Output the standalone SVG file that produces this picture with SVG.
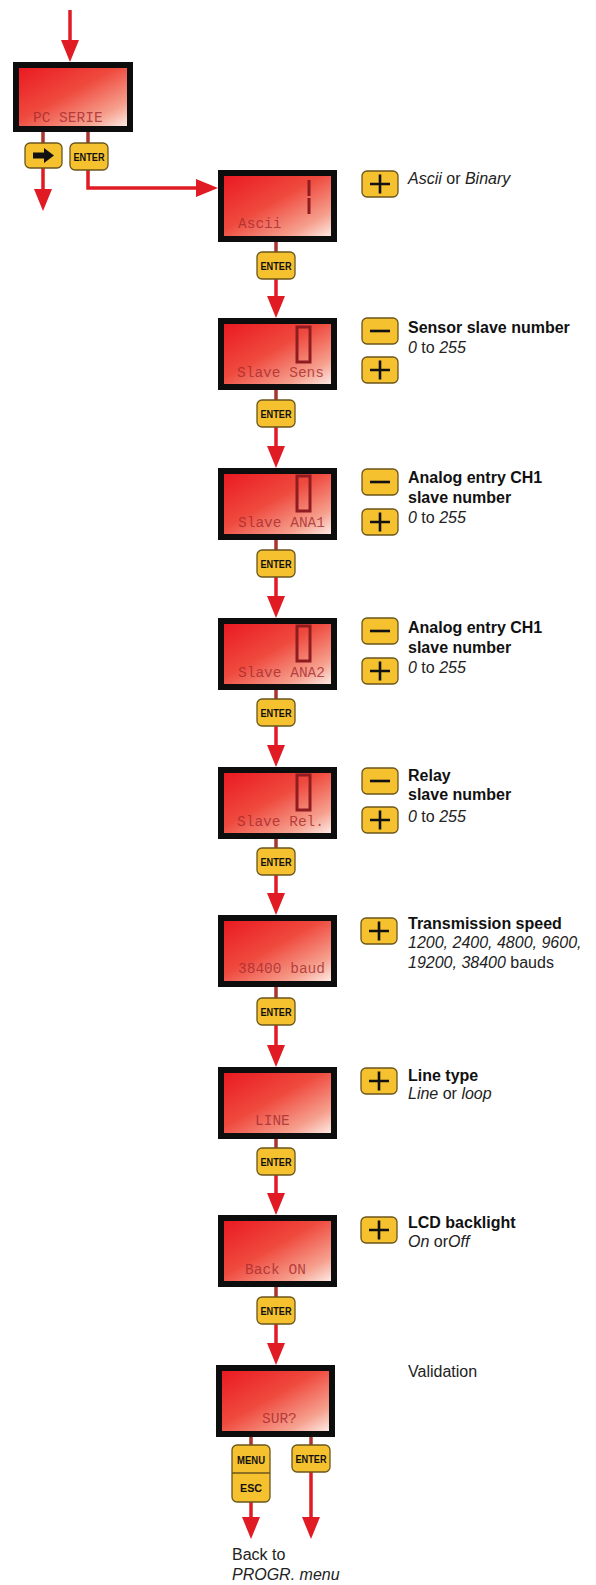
<svg xmlns="http://www.w3.org/2000/svg" xmlns:xlink="http://www.w3.org/1999/xlink" width="596" height="1585" viewBox="0 0 596 1585">
<style>
.frame{fill:#0d0d0d}
.scr{fill:url(#lcd)}
.lcdt{font-family:"Liberation Mono","DejaVu Sans Mono",monospace;font-size:14.5px;fill:#a42a2e;fill-opacity:0.8}
.dig{fill:none;stroke:#8e1c20;stroke-width:3}
.btn{fill:#f6c12f;stroke:#6a561c;stroke-width:1.3}
.bt{font-family:"Liberation Sans",Arial,sans-serif;font-weight:bold;font-size:11px;fill:#111}
.sym{stroke:#111;stroke-width:2.6;fill:none}
.lbl{font-family:"Liberation Sans",Arial,sans-serif;font-size:16px;fill:#222}
.b{font-weight:bold;fill:#111}
.i{font-style:italic}
.ln{stroke:#e01b24;stroke-width:3.5;fill:none}
.lnd{stroke:#a8352f;stroke-width:3.5;fill:none}
.ah{fill:#e01b24}
</style>
<defs>
<linearGradient id="lcd" x1="0" y1="0" x2="1" y2="1">
<stop offset="0" stop-color="#ea1a22"/>
<stop offset="0.45" stop-color="#ef4a3e"/>
<stop offset="0.8" stop-color="#f6a08e"/>
<stop offset="1" stop-color="#fde9e3"/>
</linearGradient>
<polygon id="ahd" points="-9,-22 9,-22 0,0"/>
<polygon id="ahr" points="-22,-9 -22,9 0,0"/>
<g id="plus"><rect class="btn" x="0" y="0" width="36" height="26" rx="5"/><path class="sym" d="M8,13 H28 M18,3.5 V22.5"/></g>
<g id="minus"><rect class="btn" x="0" y="0" width="36" height="26" rx="5"/><path class="sym" d="M8,13 H28" stroke-width="3"/></g>
<g id="enter"><rect class="btn" x="0" y="0" width="38" height="27" rx="5"/><text class="bt" x="19" y="18" text-anchor="middle" textLength="31" lengthAdjust="spacingAndGlyphs">ENTER</text></g>
</defs>
<rect width="596" height="1585" fill="#ffffff"/>

<g id="connectors">
<line class="ln" x1="70" y1="10" x2="70" y2="42"/>
<use href="#ahd" class="ah" x="70" y="62"/>
<line class="lnd" x1="43" y1="132" x2="43" y2="143"/>
<line class="lnd" x1="88" y1="132" x2="88" y2="143"/>
<line class="ln" x1="43" y1="168" x2="43" y2="190"/>
<use href="#ahd" class="ah" x="43" y="211"/>
<polyline class="ln" points="88,170 88,188 198,188"/>
<use href="#ahr" class="ah" x="218" y="188"/>
<line class="lnd" x1="276" y1="242" x2="276" y2="252"/>
<line class="ln" x1="276" y1="279" x2="276" y2="298"/>
<use href="#ahd" class="ah" x="276" y="318"/>
<line class="lnd" x1="276" y1="390" x2="276" y2="400"/>
<line class="ln" x1="276" y1="427" x2="276" y2="448"/>
<use href="#ahd" class="ah" x="276" y="468"/>
<line class="lnd" x1="276" y1="540" x2="276" y2="550"/>
<line class="ln" x1="276" y1="577" x2="276" y2="598"/>
<use href="#ahd" class="ah" x="276" y="618"/>
<line class="lnd" x1="276" y1="690" x2="276" y2="699"/>
<line class="ln" x1="276" y1="726" x2="276" y2="747"/>
<use href="#ahd" class="ah" x="276" y="767"/>
<line class="lnd" x1="276" y1="839" x2="276" y2="848"/>
<line class="ln" x1="276" y1="875" x2="276" y2="895"/>
<use href="#ahd" class="ah" x="276" y="915"/>
<line class="lnd" x1="276" y1="987" x2="276" y2="998"/>
<line class="ln" x1="276" y1="1025" x2="276" y2="1047"/>
<use href="#ahd" class="ah" x="276" y="1067"/>
<line class="lnd" x1="276" y1="1139" x2="276" y2="1148"/>
<line class="ln" x1="276" y1="1175" x2="276" y2="1195"/>
<use href="#ahd" class="ah" x="276" y="1215"/>
<line class="lnd" x1="276" y1="1287" x2="276" y2="1297"/>
<line class="ln" x1="276" y1="1324" x2="276" y2="1345"/>
<use href="#ahd" class="ah" x="276" y="1365"/>
<line class="lnd" x1="251" y1="1437" x2="251" y2="1445"/>
<line class="lnd" x1="311" y1="1437" x2="311" y2="1445"/>
<line class="ln" x1="251" y1="1502" x2="251" y2="1518"/>
<use href="#ahd" class="ah" x="251" y="1539"/>
<line class="ln" x1="311" y1="1472" x2="311" y2="1518"/>
<use href="#ahd" class="ah" x="311" y="1539"/>
</g>

<g id="node-pc-serie">
<rect class="frame" x="13" y="62" width="120" height="70"/>
<rect class="scr" x="19" y="68" width="108" height="58"/>
<text class="lcdt" x="33" y="122">PC SERIE</text>
<rect class="btn" x="25" y="143" width="37" height="25" rx="5"/>
<polygon fill="#111" points="33,152.5 44,152.5 44,148 54,155.5 44,163 44,158.5 33,158.5"/>
<use href="#enter" x="70" y="143"/>
</g>

<g id="node-ascii">
<rect class="frame" x="218" y="170" width="119" height="72"/>
<rect class="scr" x="224" y="176" width="107" height="60"/>
<path class="dig" d="M309,180 V196 M309,198 V214"/>
<text class="lcdt" x="238" y="228">Ascii</text>
<use href="#plus" x="362" y="171"/>
<text class="lbl" x="408" y="184"><tspan class="i">Ascii</tspan> or <tspan class="i">Binary</tspan></text>
<use href="#enter" x="257" y="252"/>
</g>

<g id="node-slave-sens">
<rect class="frame" x="218" y="318" width="119" height="72"/>
<rect class="scr" x="224" y="324" width="107" height="60"/>
<rect class="dig" x="297" y="327" width="13" height="35"/>
<text class="lcdt" x="237" y="377">Slave Sens</text>
<use href="#minus" x="362" y="318"/>
<use href="#plus" x="362" y="357"/>
<text class="lbl b" x="408" y="333">Sensor slave number</text>
<text class="lbl" x="408" y="353"><tspan class="i">0</tspan> to <tspan class="i">255</tspan></text>
<use href="#enter" x="257" y="400"/>
</g>

<g id="node-slave-ana1">
<rect class="frame" x="218" y="468" width="119" height="72"/>
<rect class="scr" x="224" y="474" width="107" height="60"/>
<rect class="dig" x="297" y="476" width="13" height="35"/>
<text class="lcdt" x="238" y="527">Slave ANA1</text>
<use href="#minus" x="362" y="469"/>
<use href="#plus" x="362" y="509"/>
<text class="lbl b" x="408" y="483">Analog entry CH1</text>
<text class="lbl b" x="408" y="503">slave number</text>
<text class="lbl" x="408" y="523"><tspan class="i">0</tspan> to <tspan class="i">255</tspan></text>
<use href="#enter" x="257" y="550"/>
</g>

<g id="node-slave-ana2">
<rect class="frame" x="218" y="618" width="119" height="72"/>
<rect class="scr" x="224" y="624" width="107" height="60"/>
<rect class="dig" x="297" y="626" width="13" height="35"/>
<text class="lcdt" x="238" y="677">Slave ANA2</text>
<use href="#minus" x="362" y="618"/>
<use href="#plus" x="362" y="658"/>
<text class="lbl b" x="408" y="633">Analog entry CH1</text>
<text class="lbl b" x="408" y="653">slave number</text>
<text class="lbl" x="408" y="673"><tspan class="i">0</tspan> to <tspan class="i">255</tspan></text>
<use href="#enter" x="257" y="699"/>
</g>

<g id="node-slave-rel">
<rect class="frame" x="218" y="767" width="119" height="72"/>
<rect class="scr" x="224" y="773" width="107" height="60"/>
<rect class="dig" x="297" y="775" width="13" height="35"/>
<text class="lcdt" x="237" y="826">Slave Rel.</text>
<use href="#minus" x="362" y="768"/>
<use href="#plus" x="362" y="807"/>
<text class="lbl b" x="408" y="781">Relay</text>
<text class="lbl b" x="408" y="800">slave number</text>
<text class="lbl" x="408" y="822"><tspan class="i">0</tspan> to <tspan class="i">255</tspan></text>
<use href="#enter" x="257" y="848"/>
</g>

<g id="node-baud">
<rect class="frame" x="218" y="915" width="119" height="72"/>
<rect class="scr" x="224" y="921" width="107" height="60"/>
<text class="lcdt" x="238" y="973">38400 baud</text>
<use href="#plus" x="361" y="918"/>
<text class="lbl b" x="408" y="929">Transmission speed</text>
<text class="lbl i" x="408" y="948">1200, 2400, 4800, 9600,</text>
<text class="lbl" x="408" y="968"><tspan class="i">19200, 38400</tspan> bauds</text>
<use href="#enter" x="257" y="998"/>
</g>

<g id="node-line">
<rect class="frame" x="218" y="1067" width="119" height="72"/>
<rect class="scr" x="224" y="1073" width="107" height="60"/>
<text class="lcdt" x="255" y="1125">LINE</text>
<use href="#plus" x="361" y="1068"/>
<text class="lbl b" x="408" y="1081">Line type</text>
<text class="lbl" x="408" y="1099"><tspan class="i">Line</tspan> or <tspan class="i">loop</tspan></text>
<use href="#enter" x="257" y="1148"/>
</g>

<g id="node-backlight">
<rect class="frame" x="218" y="1215" width="119" height="72"/>
<rect class="scr" x="224" y="1221" width="107" height="60"/>
<text class="lcdt" x="245" y="1274">Back ON</text>
<use href="#plus" x="361" y="1217"/>
<text class="lbl b" x="408" y="1228">LCD backlight</text>
<text class="lbl" x="408" y="1247"><tspan class="i">On</tspan> or<tspan class="i">Off</tspan></text>
<use href="#enter" x="257" y="1297"/>
</g>

<g id="node-validation">
<rect class="frame" x="216" y="1365" width="119" height="72"/>
<rect class="scr" x="222" y="1371" width="107" height="60"/>
<text class="lcdt" x="262" y="1423">SUR?</text>
<text class="lbl" x="408" y="1377">Validation</text>
<rect class="btn" x="232" y="1445" width="38" height="57" rx="5"/>
<line x1="232" y1="1473" x2="270" y2="1473" stroke="#6a561c" stroke-width="1.3"/>
<text class="bt" x="251" y="1463.5" text-anchor="middle" textLength="28" lengthAdjust="spacingAndGlyphs">MENU</text>
<text class="bt" x="251" y="1492" text-anchor="middle" textLength="22" lengthAdjust="spacingAndGlyphs">ESC</text>
<use href="#enter" x="292" y="1445"/>
<text class="lbl" x="232" y="1560">Back to</text>
<text class="lbl i" x="232" y="1580">PROGR. menu</text>
</g>
</svg>
